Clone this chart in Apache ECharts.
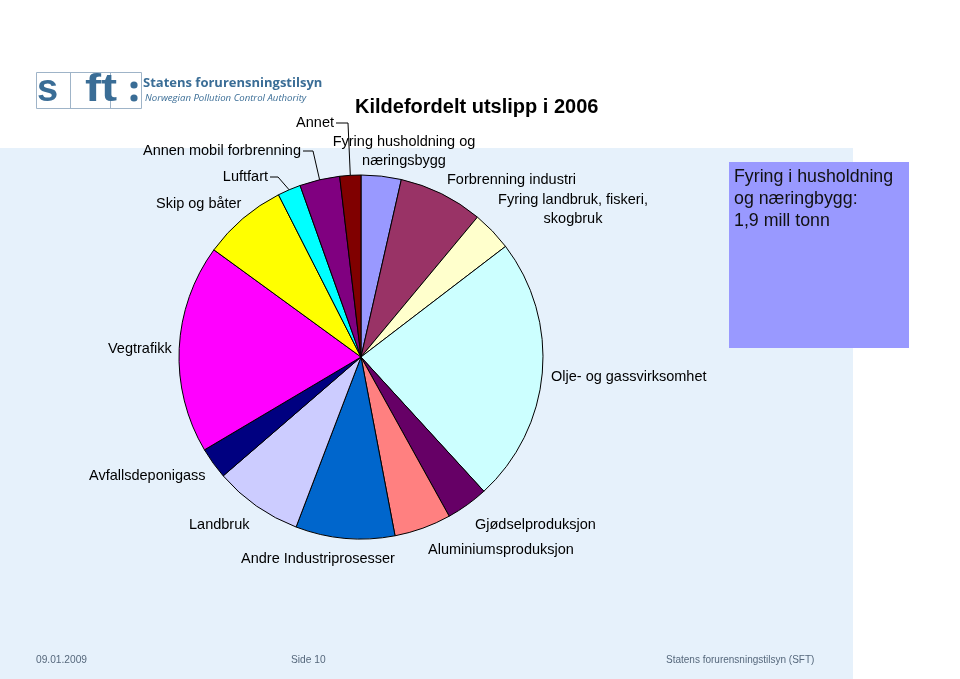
<!DOCTYPE html>
<html>
<head>
<meta charset="utf-8">
<script src="https://cdn.jsdelivr.net/npm/echarts@6/dist/echarts.min.js"></script>
<style>
html,body{margin:0;padding:0;background:#fff;}
#chart{width:960px;height:679px;}
</style>
</head>
<body>
<div id="chart"></div>
<script>
// ---- data (mill tonn CO2-ekvivalenter) ----
var categories = [
  'Fyring husholdning og\nnæringsbygg',
  'Forbrenning industri',
  'Fyring landbruk, fiskeri,\nskogbruk',
  'Olje- og gassvirksomhet',
  'Gjødselproduksjon',
  'Aluminiumsproduksjon',
  'Andre Industriprosesser',
  'Landbruk',
  'Avfallsdeponigass',
  'Vegtrafikk',
  'Skip og båter',
  'Luftfart',
  'Annen mobil forbrenning',
  'Annet'
];
var values = [1.9, 4.0, 1.9, 12.6, 2.0, 2.7, 4.7, 4.2, 1.5, 9.9, 4.0, 1.1, 1.9, 1.0];
var titleText = 'Kildefordelt utslipp i 2006';
var boxText = 'Fyring i husholdning\nog næringbygg:\n1,9 mill tonn';
var footerTexts = ['09.01.2009', 'Side 10', 'Statens forurensningstilsyn (SFT)'];

// ---- styling ----
var colors = ['#9999ff','#993366','#ffffcc','#ccffff','#660066','#ff8080','#0066cc',
              '#ccccff','#000080','#ff00ff','#ffff00','#00ffff','#800080','#800000'];
var labelPos = [
  {x:404, y:151, align:'center'},
  {x:447, y:180, align:'left'},
  {x:573, y:209, align:'center'},
  {x:551, y:377, align:'left'},
  {x:475, y:525, align:'left'},
  {x:428, y:550, align:'left'},
  {x:241, y:559, align:'left'},
  {x:189, y:525, align:'left'},
  {x:89,  y:476, align:'left'},
  {x:108, y:349, align:'left'},
  {x:156, y:204, align:'left'},
  {x:268, y:177, align:'right', elbow:10},
  {x:301, y:151, align:'right', elbow:12},
  {x:334, y:123, align:'right', elbow:14}
];
var FONT = '"Liberation Sans", Arial, sans-serif';
var LOGO = '#3a6d96';

var chart = echarts.init(document.getElementById('chart'), null, {renderer:'canvas'});

var pieData = categories.map(function(c, i){
  return {name:c, value:values[i], itemStyle:{color:colors[i]}};
});

var bgGraphics = [
  {type:'rect', z:-10, shape:{x:0,y:0,width:960,height:679}, style:{fill:'#ffffff'}},
  {type:'rect', z:-9, shape:{x:0,y:148,width:853,height:531}, style:{fill:'#e6f1fb'}},
  // logo
  {type:'rect', z:-5, shape:{x:36.5,y:72.5,width:105,height:36}, style:{fill:'none', stroke:'#9fb4c8', lineWidth:1}},
  {type:'line', z:-5, shape:{x1:70.5,y1:72.5,x2:70.5,y2:108.5}, style:{stroke:'#9fb4c8', lineWidth:1}},
  {type:'line', z:-5, shape:{x1:110.5,y1:72.5,x2:110.5,y2:108.5}, style:{stroke:'#9fb4c8', lineWidth:1}},
  {type:'text', z:-4, style:{text:'s', x:37, y:110, fill:LOGO, font:'bold 38px ' + FONT, verticalAlign:'bottom'}},
  {type:'text', z:-4, scaleX:1.27, originX:85, originY:110, style:{text:'ft', x:85, y:110, fill:LOGO, font:'bold 38px ' + FONT, verticalAlign:'bottom'}},
  {type:'circle', z:-4, shape:{cx:134, cy:85, r:3.6}, style:{fill:LOGO}},
  {type:'circle', z:-4, shape:{cx:134, cy:98, r:3.6}, style:{fill:LOGO}},
  {type:'text', z:-4, style:{text:'Statens forurensningstilsyn', x:143, y:83, fill:LOGO, font:'bold 13px "Open Sans", ' + FONT, verticalAlign:'middle'}},
  {type:'text', z:-4, style:{text:'Norwegian Pollution Control Authority', x:145, y:98, fill:LOGO, font:'italic 9.6px "Open Sans", ' + FONT, verticalAlign:'middle'}},
  // title
  {type:'text', z:5, style:{text:titleText, x:355, y:107, fill:'#000', font:'bold 20px ' + FONT, verticalAlign:'middle'}},
  // info box
  {type:'rect', z:5, shape:{x:729,y:162,width:180,height:186}, style:{fill:'#9999ff'}},
  {type:'text', z:6, style:{text:boxText, x:734, y:166, fill:'#111', font:'17.8px ' + FONT, lineHeight:22, verticalAlign:'top'}},
  // footer
  {type:'text', z:5, style:{text:footerTexts[0], x:36, y:660, fill:'#56687c', font:'10.2px ' + FONT, verticalAlign:'middle'}},
  {type:'text', z:5, style:{text:footerTexts[1], x:291, y:660, fill:'#56687c', font:'10.2px ' + FONT, verticalAlign:'middle'}},
  {type:'text', z:5, style:{text:footerTexts[2], x:666, y:660, fill:'#56687c', font:'10px ' + FONT, verticalAlign:'middle'}}
];

chart.setOption({
  animation:false,
  backgroundColor:'transparent',
  graphic:{elements:bgGraphics},
  series:[{
    type:'pie',
    center:[361,357],
    radius:182,
    startAngle:90,
    clockwise:true,
    avoidLabelOverlap:false,
    itemStyle:{borderColor:'#000', borderWidth:1},
    emphasis:{disabled:true},
    label:{show:true, formatter:'{b}', color:'#000', fontSize:14.5, fontFamily:FONT, lineHeight:19},
    labelLine:{show:false},
    labelLayout:function(p){
      var lp = labelPos[p.dataIndex];
      return {x:lp.x, y:lp.y, align:lp.align, verticalAlign:'middle'};
    },
    data:pieData
  }]
});

// leader lines computed from the pie's own layout
var data = chart.getModel().getSeriesByIndex(0).getData();
var lines = [];
labelPos.forEach(function(lp, i){
  if (!lp.elbow) return;
  var L = data.getItemLayout(i);
  var mid = (L.startAngle + L.endAngle) / 2;
  var ex = L.cx + L.r * Math.cos(mid);
  var ey = L.cy + L.r * Math.sin(mid);
  var sx = lp.x + 2, ex2 = lp.x + lp.elbow;
  lines.push({type:'polyline', z:6, shape:{points:[[sx, lp.y],[ex2, lp.y],[ex, ey]]},
              style:{stroke:'#000', lineWidth:1, fill:null}});
});
chart.setOption({graphic:{elements:bgGraphics.concat(lines)}});
</script>
</body>
</html>
